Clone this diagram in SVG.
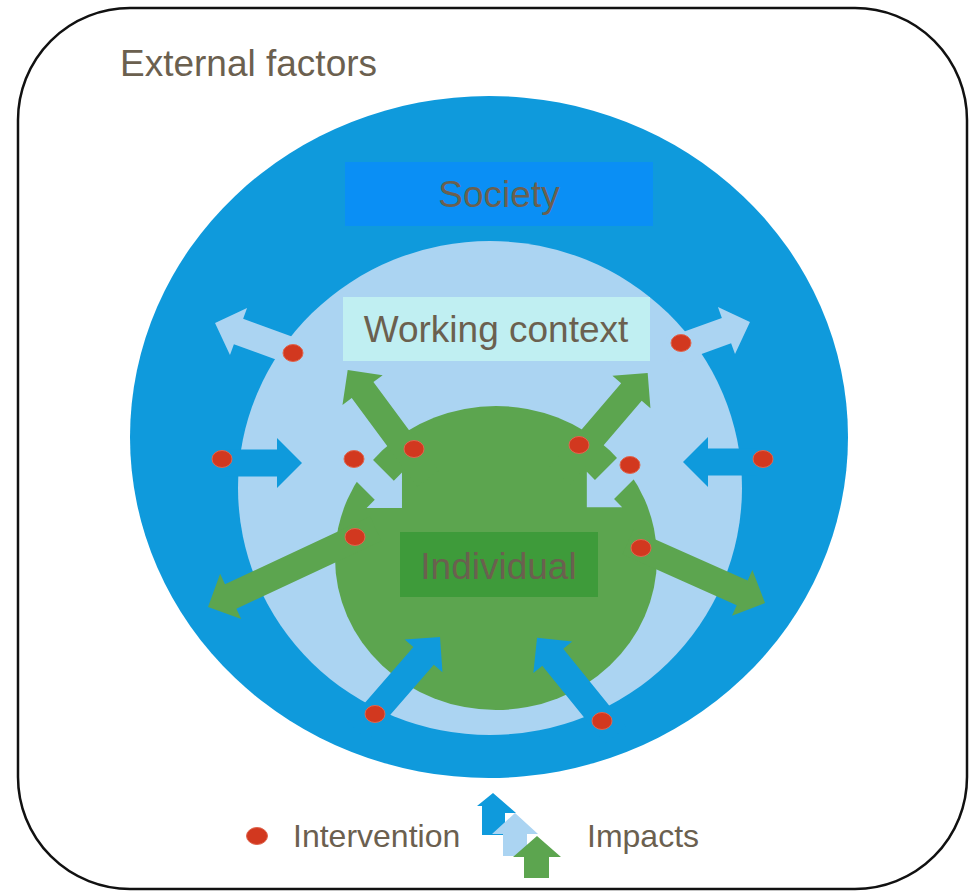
<svg xmlns="http://www.w3.org/2000/svg" width="972" height="893" viewBox="0 0 972 893">
<style>
text{font-family:"Liberation Sans",Arial,sans-serif;fill:#6B604F}
.big{font-size:37px}
.leg{font-size:32px}
.lb{fill:#ABD4F2}
.bl{fill:#0F9ADC}
.gr{fill:#5CA54F}
.dot{fill:#D2381F;stroke:#E0664F;stroke-width:1}
</style>
<rect width="972" height="893" fill="#FFFFFF"/>
<g id="external-factors">
<rect x="18" y="8" width="949" height="881" rx="112" ry="112" fill="none" stroke="#111111" stroke-width="2.5"/>
<text class="big" x="120" y="76">External factors</text>
</g>
<g id="society">
<ellipse cx="489" cy="437" rx="359" ry="341" class="bl"/>
</g>
<g id="working-context">
<ellipse cx="490" cy="488" rx="252" ry="247" class="lb"/>
</g>
<g id="connectors-outer">
<polygon class="lb" points="0,-13.5 70,-13.5 70,-25 95,0 70,25 70,13.5 0,13.5" transform="translate(304.3,355.5) rotate(200)"/>
<polygon class="lb" points="0,-13.5 65,-13.5 65,-25 90,0 65,25 65,13.5 0,13.5" transform="translate(665.4,352.8) rotate(-20)"/>
<polygon class="bl" points="0,-13.5 52,-13.5 52,-25 77,0 52,25 52,13.5 0,13.5" transform="translate(225,463)"/>
<polygon class="bl" points="0,-13.5 49,-13.5 49,-25 74,0 49,25 49,13.5 0,13.5" transform="translate(757,462) rotate(180)"/>
</g>
<g id="individual">
<ellipse cx="496" cy="558" rx="161" ry="152" class="gr"/>
</g>
<g id="connectors">
<polygon class="gr" points="0,-13.5 110,-13.5 110,-25 135,0 110,25 110,13.5 0,13.5" transform="translate(428,478.5) rotate(-126.5)"/>
<polygon class="gr" points="0,-13.5 110,-13.5 110,-25 135,0 110,25 110,13.5 0,13.5" transform="translate(560,475.6) rotate(-49.5)"/>
<polygon class="gr" points="0,-13.5 160,-13.5 160,-25 185,0 160,25 160,13.5 0,13.5" transform="translate(375.7,528.8) rotate(155)"/>
<polygon class="gr" points="0,-13.5 125,-13.5 125,-25 150,0 125,25 125,13.5 0,13.5" transform="translate(628,542) rotate(24)"/>
<polygon class="lb" points="0,-13.5 70,-13.5 70,-25 95,0 70,25 70,13.5 0,13.5" transform="translate(334.8,440.8) rotate(45)"/>
<polygon class="lb" points="0,-13.5 70,-13.5 70,-25 95,0 70,25 70,13.5 0,13.5" transform="translate(654,440) rotate(135)"/>
<polygon class="bl" points="0,-13.5 100,-13.5 100,-25 125,0 100,25 100,13.5 0,13.5" transform="translate(358,731.4) rotate(-49)"/>
<polygon class="bl" points="0,-13.5 100,-13.5 100,-25 125,0 100,25 100,13.5 0,13.5" transform="translate(615.7,735) rotate(-129)"/>
</g>
<g id="society-label">
<rect x="345" y="162" width="308" height="64" fill="#0A8FF5"/>
<text class="big" x="499" y="207" text-anchor="middle">Society</text>
</g>
<g id="working-context-label">
<rect x="343" y="297" width="307" height="64" fill="#C0EFF2"/>
<text class="big" x="496" y="342" text-anchor="middle">Working context</text>
</g>
<g id="individual-label">
<rect x="400" y="532" width="198" height="65" fill="#3E9B3A"/>
<text class="big" x="498.5" y="579" text-anchor="middle">Individual</text>
</g>
<g id="interventions">
<ellipse class="dot" cx="293" cy="353" rx="10" ry="8.5"/>
<ellipse class="dot" cx="222" cy="459" rx="10" ry="8.5"/>
<ellipse class="dot" cx="354" cy="459" rx="10" ry="8.5"/>
<ellipse class="dot" cx="414" cy="449" rx="10" ry="8.5"/>
<ellipse class="dot" cx="579" cy="445" rx="10" ry="8.5"/>
<ellipse class="dot" cx="630" cy="465" rx="10" ry="8.5"/>
<ellipse class="dot" cx="763" cy="459" rx="10" ry="8.5"/>
<ellipse class="dot" cx="681" cy="343" rx="10" ry="8.5"/>
<ellipse class="dot" cx="355" cy="537" rx="10" ry="8.5"/>
<ellipse class="dot" cx="641" cy="548" rx="10" ry="8.5"/>
<ellipse class="dot" cx="375" cy="714" rx="10" ry="8.5"/>
<ellipse class="dot" cx="602" cy="721" rx="10" ry="8.5"/>
</g>
<g id="legend">
<ellipse class="dot" cx="257" cy="836" rx="10.5" ry="8.5"/>
<text class="leg" x="293" y="847">Intervention</text>
<polygon class="bl" points="493,793 516,813 505,813 505,835 482,835 482,806 477,806"/>
<polygon class="lb" points="515,813 538,834 527,834 527,856 503,856 503,834 492,834"/>
<polygon class="gr" points="537,836 561,857 549,857 549,878 524,878 524,857 513,857"/>
<text class="leg" x="587" y="847">Impacts</text>
</g>
</svg>
